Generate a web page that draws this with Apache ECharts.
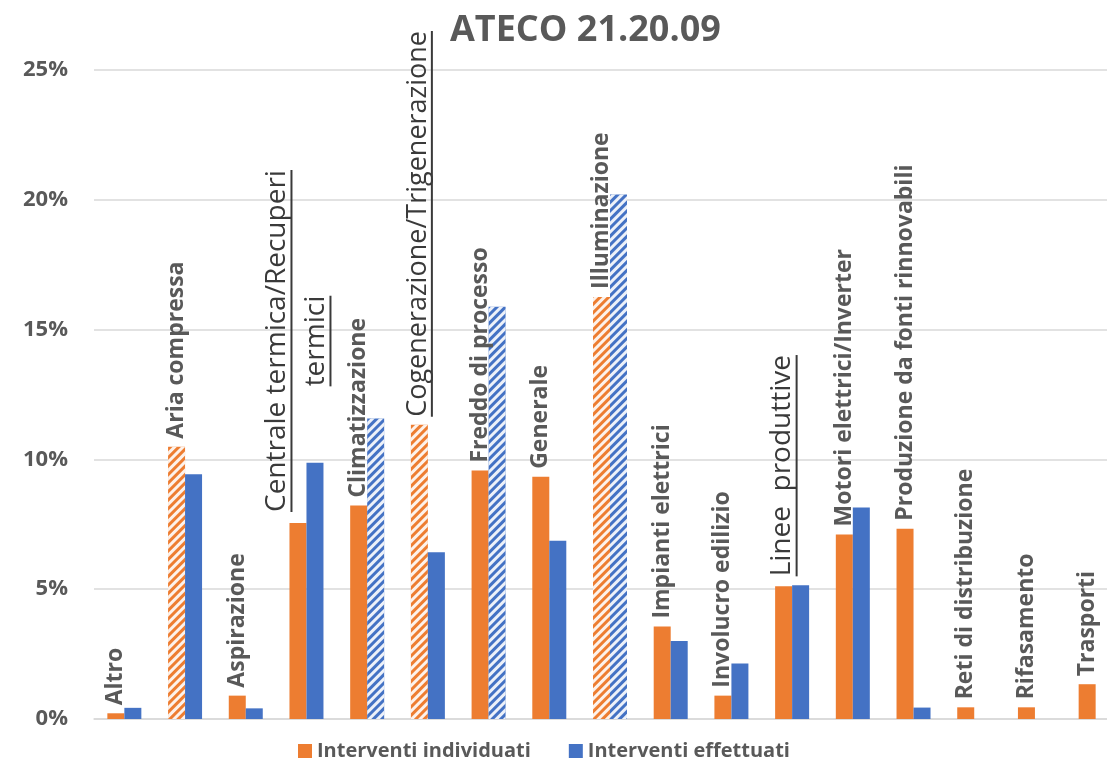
<!DOCTYPE html>
<html>
<head>
<meta charset="utf-8">
<script src="https://cdn.jsdelivr.net/npm/echarts@6/dist/echarts.min.js"></script>
<style>html,body{margin:0;padding:0;background:#fff}#c{width:1107px;height:760px}</style>
</head>
<body>
<div id="c"></div>
<script>
const categories = ['Altro','Aria compressa','Aspirazione','Centrale termica/Recuperi termici','Climatizzazione','Cogenerazione/Trigenerazione','Freddo di processo','Generale','Illuminazione','Impianti elettrici','Involucro edilizio','Linee produttive','Motori elettrici/Inverter','Produzione da fonti rinnovabili','Reti di distribuzione','Rifasamento','Trasporti'];
const individuati = [0.22, 10.49, 0.90, 7.55, 8.22, 11.33, 9.57, 9.33, 16.26, 3.56, 0.90, 5.11, 7.11, 7.33, 0.45, 0.45, 1.34];
const effettuati = [0.43, 9.43, 0.41, 9.87, 11.58, 6.42, 15.88, 6.87, 20.20, 3.00, 2.14, 5.15, 8.15, 0.44, 0, 0, 0];
const yTicks = [0, 5, 10, 15, 20, 25];
const hatchedIndividuati = ['Aria compressa','Cogenerazione/Trigenerazione','Illuminazione'];
const hatchedEffettuati = ['Climatizzazione','Freddo di processo','Illuminazione'];
const seriesNames = ['Interventi individuati','Interventi effettuati'];

const FONT = '"Open Sans", "Noto Sans", sans-serif';
const TXT = '#595959';
const ORANGE = '#ED7D31', BLUE = '#4472C4';
const hatch = {symbol:'rect', symbolSize:1, dashArrayX:[1,0], dashArrayY:[2.5,2.5], rotation:-Math.PI/4, color:'rgba(255,255,255,0.9)'};

const mctx = document.createElement('canvas').getContext('2d');
function tw(text, size, weight){ mctx.font = (weight||'normal') + ' ' + size + 'px ' + FONT; return mctx.measureText(text).width; }

function ulLabel(lines, size, dist){
  const rich = {sp:{lineHeight:10, fontSize:1}};
  const parts = [];
  lines.forEach((s, k) => {
    rich['t'+k] = {fontSize:size, fontWeight:'normal', fontFamily:FONT, color:'#3a3a3a', lineHeight:size-2, align:'center'};
    rich['u'+k] = {width: tw(s, size), height:2, backgroundColor:'#3a3a3a', lineHeight:3, align:'center'};
    if (k > 0) parts.push('{sp|}');
    parts.push('{t'+k+'|'+s+'}', '{u'+k+'|}');
  });
  return {formatter: parts.join('\n'), rich: rich, distance: dist};
}
const specialLabels = {
  'Centrale termica/Recuperi termici': ulLabel(['Centrale termica/Recuperi','termici'], 28, 11),
  'Cogenerazione/Trigenerazione': ulLabel(['Cogenerazione/Trigenerazione'], 27, 8),
  'Linee produttive': ulLabel(['Linee  produttive'], 28, 10)
};

const dataInd = individuati.map((v, i) => {
  const o = {value: v};
  if (hatchedIndividuati.includes(categories[i])) o.itemStyle = {decal: hatch};
  if (specialLabels[categories[i]]) o.label = specialLabels[categories[i]];
  return o;
});
const dataEff = effettuati.map((v, i) => {
  const o = {value: v};
  if (hatchedEffettuati.includes(categories[i])) o.itemStyle = {decal: hatch};
  return o;
});

const chart = echarts.init(document.getElementById('c'), null, {renderer:'canvas'});
chart.setOption({
  animation: false,
  textStyle: {fontFamily: FONT},
  title: {text:'ATECO 21.20.09', left:445, top:8, textStyle:{fontSize:36, fontWeight:'bold', color:TXT, fontFamily:FONT}},
  legend: {data: seriesNames, left:293, top:736, icon:'rect', itemWidth:14, itemHeight:14, itemGap:38,
    textStyle:{fontSize:20, fontWeight:'bold', color:TXT, fontFamily:FONT}},
  grid: {left:94, width:1032, top:70, bottom:41, containLabel:false, outerBoundsMode:'none'},
  xAxis: {type:'category', data:categories, axisLine:{lineStyle:{color:'#D9D9D9', width:1.5}}, axisTick:{show:false}, axisLabel:{show:false}},
  yAxis: {type:'value', min:yTicks[0], max:yTicks[yTicks.length-1], interval:yTicks[1]-yTicks[0],
    axisLabel:{formatter:'{value}%', fontSize:22, fontWeight:'bold', color:TXT, margin:26, fontFamily:FONT},
    splitLine:{lineStyle:{color:'#D9D9D9', width:1.5}}, axisLine:{show:false}, axisTick:{show:false}},
  series: [
    {name: seriesNames[0], type:'bar', data:dataInd, barWidth:17, barGap:'0%', itemStyle:{color:ORANGE},
     label:{show:true, position:'top', distance:8, rotate:90, align:'left', verticalAlign:'middle',
       formatter: p => categories[p.dataIndex], fontSize:23, fontWeight:'bold', color:TXT, fontFamily:FONT}},
    {name: seriesNames[1], type:'bar', data:dataEff, barWidth:17, itemStyle:{color:BLUE}}
  ]
});
</script>
</body>
</html>
